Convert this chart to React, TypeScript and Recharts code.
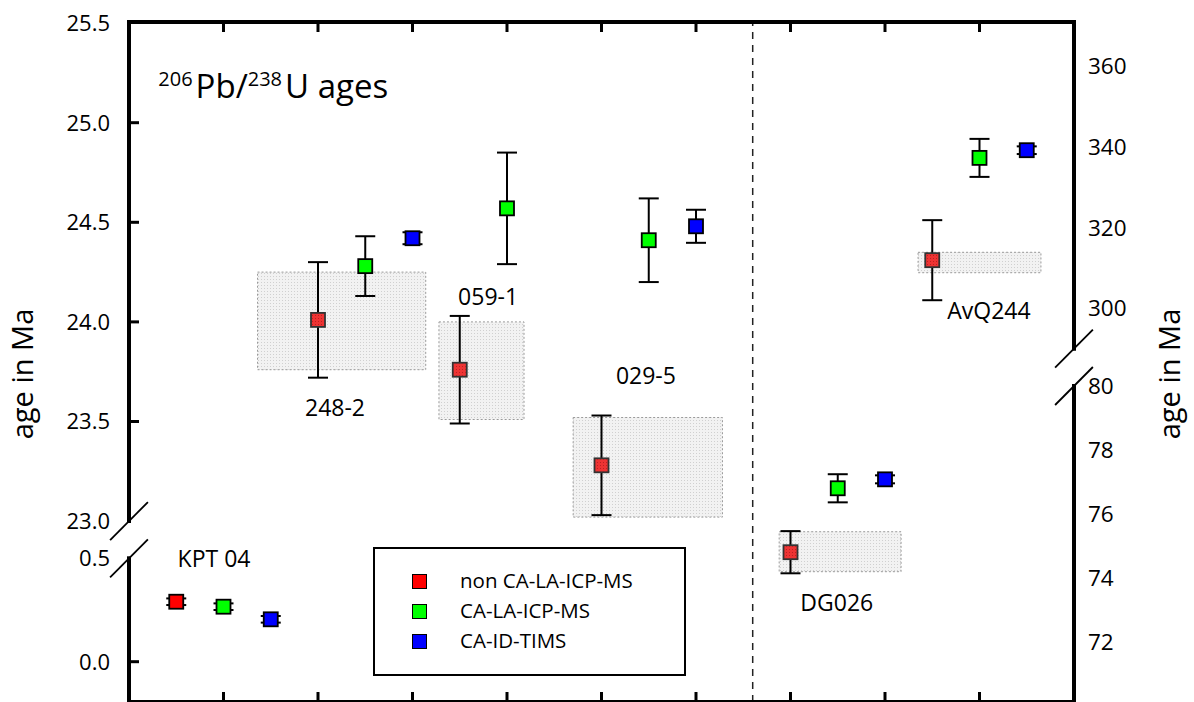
import React from 'react';
import {
  ComposedChart,
  Scatter,
  XAxis,
  YAxis,
  ErrorBar,
  ReferenceArea,
  ReferenceLine,
  ReferenceDot,
  Legend,
} from 'recharts';

const FONT = "'Open Sans', 'Noto Sans', sans-serif";

// samples and the broken-axis piece each one is read against
const samples = ['KPT 04', '248-2', '059-1', '029-5', 'DG026', 'AvQ244'];
const sampleSegment = ['leftLow', 'leftHigh', 'leftHigh', 'leftHigh', 'rightLow', 'rightHigh'];

// non CA-LA-ICP-MS
const nonCaX = [0.5, 2.0, 3.5, 5.0, 7.0, 8.5];
const nonCaAge = [0.29, 24.01, 23.76, 23.28, 74.8, 311.9];
const nonCaErr = [0.016, 0.29, 0.27, 0.25, 0.66, 9.9];

// CA-LA-ICP-MS
const caLaX = [1.0, 2.5, 4.0, 5.5, 7.5, 9.0];
const caLaAge = [0.266, 24.28, 24.57, 24.41, 76.8, 337.2];
const caLaErr = [0.016, 0.15, 0.28, 0.21, 0.44, 4.7];

// CA-ID-TIMS (nothing for 059-1)
const timsX = [1.5, 3.0, null, 6.0, 8.0, 9.5];
const timsAge = [0.205, 24.42, null, 24.48, 77.08, 339.1];
const timsErr = [0.016, 0.03, null, 0.083, 0.125, 0.95];

// grey boxes behind the non-CA results
const boxX1 = [null, 1.36, 3.28, 4.7, 6.88, 8.35];
const boxX2 = [null, 3.14, 4.18, 6.28, 8.17, 9.65];
const boxAgeLow = [null, 23.76, 23.51, 23.02, 74.19, 308.8];
const boxAgeHigh = [null, 24.25, 24.0, 23.52, 75.44, 313.85];

// sample name positions
const labelX = [0.9, 2.18, 3.8, 5.47, 7.49, 9.1];
const labelAge = [0.496, 23.57, 24.125, 23.73, 73.21, 299.4];

const xTicks = [1, 2, 3, 4, 5, 6, 7, 8, 9];
const leftLowTicks = [0.0, 0.5];
const leftHighTicks = [23.0, 23.5, 24.0, 24.5, 25.0, 25.5];
const rightLowTicks = [72, 74, 76, 78, 80];
const rightHighTicks = [300, 320, 340, 360];

const leftBreak = [0.5, 23.0];
const rightBreak = [80, 290];
const splitX = 6.6;

const titleX = 0.31;
const titleAge = 25.122;

// plot height in units; each axis piece maps [v0, v1] onto [u0, u1]
const PLOT_H = 680;
const segments: Record<string, { v: number[]; u: number[] }> = {
  leftLow: { v: [0, 0.5], u: [40.3, 143.7] },
  leftHigh: { v: [23, 25.5], u: [180.9, 678.9] },
  rightLow: { v: [72, 80], u: [60.3, 316] },
  rightHigh: { v: [300, 360], u: [393.7, 636.3] },
};

const slope = (seg: string) => {
  const s = segments[seg];
  return (s.u[1] - s.u[0]) / (s.v[1] - s.v[0]);
};
const toU = (seg: string, v: number) => segments[seg].u[0] + (v - segments[seg].v[0]) * slope(seg);

const makeSeries = (xs: any[], ages: any[], errs: any[], boxed: boolean) =>
  xs
    .map((x, i) =>
      x == null
        ? null
        : {
            x,
            y: toU(sampleSegment[i], ages[i]),
            err: errs[i] * slope(sampleSegment[i]),
            boxed: boxed && boxX1[i] != null,
            sample: samples[i],
          }
    )
    .filter(Boolean);

const nonCaData = makeSeries(nonCaX, nonCaAge, nonCaErr, true);
const caLaData = makeSeries(caLaX, caLaAge, caLaErr, false);
const timsData = makeSeries(timsX, timsAge, timsErr, false);

const leftTickDefs = [
  ...leftLowTicks.map((v) => ({ u: toU('leftLow', v), label: v.toFixed(1), line: v !== leftBreak[0] })),
  ...leftHighTicks.map((v) => ({ u: toU('leftHigh', v), label: v.toFixed(1), line: v !== leftBreak[1] && v !== 25.5 })),
];
const rightTickDefs = [
  ...rightLowTicks.map((v) => ({ u: toU('rightLow', v), label: String(v) })),
  ...rightHighTicks.map((v) => ({ u: toU('rightHigh', v), label: String(v) })),
];

const legendItems = [
  { name: 'non CA-LA-ICP-MS', color: '#ff0000' },
  { name: 'CA-LA-ICP-MS', color: '#00ff00' },
  { name: 'CA-ID-TIMS', color: '#0000ff' },
];

const Square = (props: any) => {
  const { cx, cy, color, payload } = props;
  if (cx == null || cy == null) return null;
  const boxed = payload && payload.boxed;
  return (
    <g>
      <rect x={cx - 7} y={cy - 7} width={14} height={14} fill={boxed ? '#ee3333' : color} stroke={boxed ? '#333' : '#000'} strokeWidth={1.8} />
      {boxed && <rect x={cx - 6} y={cy - 6} width={12} height={12} fill="url(#reddots)" />}
    </g>
  );
};

const BottomTick = ({ x, y }: any) => <line x1={x} x2={x} y1={y} y2={y - 10} stroke="#000" strokeWidth={3} />;
const TopTick = ({ x, y }: any) => <line x1={x} x2={x} y1={y} y2={y + 10} stroke="#000" strokeWidth={3} />;

const LeftTick = ({ x, y, payload }: any) => {
  const d = leftTickDefs.find((t) => Math.abs(t.u - payload.value) < 0.01);
  if (!d) return null;
  return (
    <g>
      {d.line && <line x1={x} x2={x + 10} y1={y} y2={y} stroke="#000" strokeWidth={3} />}
      <text x={x - 19} y={y} dy="0.36em" textAnchor="end" fontSize={22} fontFamily={FONT} fill="#000">
        {d.label}
      </text>
    </g>
  );
};

const RightTick = ({ x, y, payload }: any) => {
  const d = rightTickDefs.find((t) => Math.abs(t.u - payload.value) < 0.01);
  if (!d) return null;
  return (
    <text x={x + 14} y={y} dy="0.36em" textAnchor="start" fontSize={22.5} fontFamily={FONT} fill="#000">
      {d.label}
    </text>
  );
};

const AxisTitle = ({ viewBox, dx }: any) => {
  if (!viewBox) return null;
  const cx = viewBox.x + dx;
  const cy = viewBox.y + viewBox.height / 2 + 12;
  return (
    <text x={cx} y={cy} dy="0.36em" textAnchor="middle" fontSize={29} fontFamily={FONT} fill="#000" transform={`rotate(-90 ${cx} ${cy})`}>
      age in Ma
    </text>
  );
};

const LegendBox = () => (
  <div
    style={{
      position: 'relative',
      width: 313,
      height: 129,
      border: '2px solid #000',
      boxSizing: 'border-box',
      background: '#fff',
      fontFamily: FONT,
      fontSize: 20.5,
      color: '#000',
    }}
  >
    {legendItems.map((it, i) => (
      <div key={it.name}>
        <div
          style={{
            position: 'absolute',
            left: 37,
            top: 25 + i * 30,
            width: 15,
            height: 15,
            background: it.color,
            border: '1.6px solid #000',
            boxSizing: 'border-box',
          }}
        />
        <div style={{ position: 'absolute', left: 85, top: 17 + i * 30, lineHeight: '28px', whiteSpace: 'nowrap' }}>{it.name}</div>
      </div>
    ))}
  </div>
);

const frameSegments = [
  [{ x: 0, y: 0 }, { x: 0, y: toU('leftLow', leftBreak[0]) }],
  [{ x: 0, y: toU('leftHigh', leftBreak[1]) }, { x: 0, y: PLOT_H }],
  [{ x: 10, y: 0 }, { x: 10, y: toU('rightLow', rightBreak[0]) }],
  [{ x: 10, y: toU('rightHigh', rightBreak[1]) }, { x: 10, y: PLOT_H }],
];
const breakPoints = [
  { x: 0, u: toU('leftLow', leftBreak[0]) },
  { x: 0, u: toU('leftHigh', leftBreak[1]) },
  { x: 10, u: toU('rightLow', rightBreak[0]) },
  { x: 10, u: toU('rightHigh', rightBreak[1]) },
];

export default function App() {
  return (
    <div style={{ position: 'absolute', left: 0, top: 0, width: 1194, height: 702, overflow: 'hidden', background: '#fff' }}>
      <ComposedChart width={1194} height={706} margin={{ top: 21, right: 119, bottom: 3, left: 128 }}>
        <defs>
          <pattern id="dots" width={3} height={3} patternUnits="userSpaceOnUse">
            <rect width={3} height={3} fill="#f2f2f2" />
            <rect width={1} height={1} fill="#d0d0d0" />
          </pattern>
          <pattern id="reddots" width={3} height={3} patternUnits="userSpaceOnUse">
            <rect width={1} height={1} fill="rgba(90,0,0,0.35)" />
          </pattern>
        </defs>
        <XAxis
          xAxisId={0}
          type="number"
          dataKey="x"
          domain={[0, 10]}
          ticks={xTicks}
          height={1}
          tickSize={0}
          tickMargin={0}
          tickLine={false}
          tick={BottomTick}
          axisLine={{ stroke: '#000', strokeWidth: 4 }}
          allowDataOverflow
        />
        <XAxis
          xAxisId="top"
          orientation="top"
          type="number"
          dataKey="x"
          domain={[0, 10]}
          ticks={xTicks}
          height={1}
          tickSize={0}
          tickMargin={0}
          tickLine={false}
          tick={TopTick}
          axisLine={{ stroke: '#000', strokeWidth: 4 }}
          allowDataOverflow
        />
        <YAxis
          yAxisId="left"
          type="number"
          dataKey="y"
          domain={[0, PLOT_H]}
          ticks={leftTickDefs.map((t) => t.u)}
          width={1}
          tickSize={0}
          tickMargin={0}
          tickLine={false}
          axisLine={false}
          tick={LeftTick}
          interval={0}
          allowDataOverflow
          label={{ content: (p: any) => <AxisTitle viewBox={p.viewBox} dx={-105} /> }}
        />
        <YAxis
          yAxisId="right"
          orientation="right"
          type="number"
          dataKey="y"
          domain={[0, PLOT_H]}
          ticks={rightTickDefs.map((t) => t.u)}
          width={1}
          tickSize={0}
          tickMargin={0}
          tickLine={false}
          axisLine={false}
          tick={RightTick}
          interval={0}
          allowDataOverflow
          label={{ content: (p: any) => <AxisTitle viewBox={p.viewBox} dx={96} /> }}
        />

        {boxX1.map((x1, i) =>
          x1 == null ? null : (
            <ReferenceArea
              key={`box-${i}`}
              yAxisId="left"
              x1={x1}
              x2={boxX2[i] as number}
              y1={toU(sampleSegment[i], boxAgeLow[i] as number)}
              y2={toU(sampleSegment[i], boxAgeHigh[i] as number)}
              fill="url(#dots)"
              fillOpacity={1}
              stroke="#9a9a9a"
              strokeWidth={1}
              strokeDasharray="2 2"
              ifOverflow="visible"
            />
          )
        )}

        <ReferenceLine yAxisId="left" x={splitX} stroke="#222" strokeWidth={1.5} strokeDasharray="7 6" />

        {frameSegments.map((seg, i) => (
          <ReferenceLine key={`ax-${i}`} yAxisId="left" segment={seg} stroke="#000" strokeWidth={4} strokeLinecap="square" ifOverflow="visible" />
        ))}
        {breakPoints.map((b, i) => (
          <ReferenceLine
            key={`br-${i}`}
            yAxisId="left"
            segment={[
              { x: b.x - 0.2, y: b.u - 19 },
              { x: b.x + 0.2, y: b.u + 19 },
            ]}
            stroke="#000"
            strokeWidth={1.8}
            ifOverflow="visible"
          />
        ))}

        <Scatter name="non CA-LA-ICP-MS" yAxisId="left" data={nonCaData} isAnimationActive={false} shape={(p: any) => <Square {...p} color="#ff0000" />}>
          <ErrorBar dataKey="err" direction="y" width={10} stroke="#000" strokeWidth={2} isAnimationActive={false} />
        </Scatter>
        <Scatter name="CA-LA-ICP-MS" yAxisId="left" data={caLaData} isAnimationActive={false} shape={(p: any) => <Square {...p} color="#00ff00" />}>
          <ErrorBar dataKey="err" direction="y" width={10} stroke="#000" strokeWidth={2} isAnimationActive={false} />
        </Scatter>
        <Scatter name="CA-ID-TIMS" yAxisId="left" data={timsData} isAnimationActive={false} shape={(p: any) => <Square {...p} color="#0000ff" />}>
          <ErrorBar dataKey="err" direction="y" width={10} stroke="#000" strokeWidth={2} isAnimationActive={false} />
        </Scatter>

        {samples.map((s, i) => (
          <ReferenceDot
            key={`lab-${i}`}
            yAxisId="left"
            x={labelX[i]}
            y={toU(sampleSegment[i], labelAge[i])}
            r={0}
            ifOverflow="visible"
            shape={(p: any) => (
              <text x={p.cx} y={p.cy} dy="0.36em" textAnchor="middle" fontSize={23} fontFamily={FONT} fill="#000">
                {s}
              </text>
            )}
          />
        ))}

        <ReferenceDot
          yAxisId="left"
          x={titleX}
          y={toU('leftHigh', titleAge)}
          r={0}
          ifOverflow="visible"
          shape={(p: any) => (
            <text x={p.cx} y={p.cy} fontSize={33} fontFamily={FONT} fill="#000">
              <tspan fontSize={20} dy={-12}>206</tspan>
              <tspan dy={12} dx={3}>Pb/</tspan>
              <tspan fontSize={20} dy={-12}>238</tspan>
              <tspan dy={12} dx={3}>U ages</tspan>
            </text>
          )}
        />

        <Legend
          layout="vertical"
          align="center"
          verticalAlign="middle"
          wrapperStyle={{ left: 373, top: 547, width: 313, height: 129 }}
          content={() => <LegendBox />}
        />
      </ComposedChart>
    </div>
  );
}
